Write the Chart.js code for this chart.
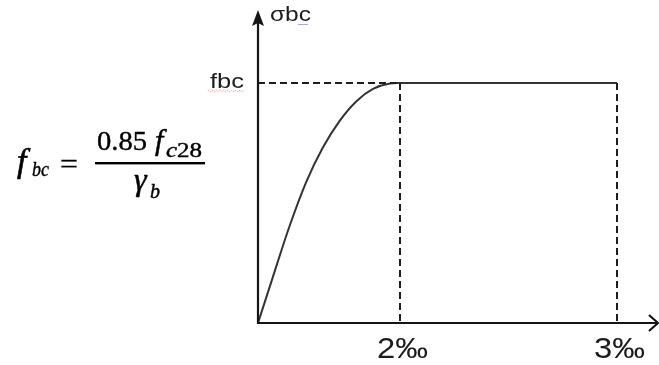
<!DOCTYPE html>
<html>
<head>
<meta charset="utf-8">
<script src="https://cdn.jsdelivr.net/npm/chart.js@4/dist/chart.umd.min.js"></script>
<style>
  html, body { margin: 0; padding: 0; background: #ffffff; }
  #wrap { position: relative; width: 659px; height: 365px; }
</style>
</head>
<body>
<div id="wrap"><canvas id="diagram" width="659" height="365"></canvas></div>
<script>
// Concrete compression law: strain in ‰, stress as a fraction of fbc
const curveStrain = [0, 0.2, 0.44, 0.68, 0.91, 1.15, 1.39, 1.62, 1.86, 2];
const curveStress = [0, 0.183, 0.40, 0.588, 0.729, 0.842, 0.925, 0.975, 0.998, 1];
const plateauStrain = [2, 3];
const plateauStress = [1, 1];
const strainTicks = [2, 3];
const strainTickLabels = ['2‰', '3‰'];
const fbcLevel = 1;
const stressAxisLabel = 'σbc';
const fbcLabel = 'fbc';
const strainAxisMax = 3.2;
const stressAxisMax = 1.304;

// The strain axis is schematic: each segment gets its own stretch along the axis.
const strainAxisKnots = [[0, 0], [2, 0.355], [3, 0.8975], [3.2, 1]];

class SchematicScale extends Chart.LinearScale {
  getPixelForValue(value) {
    const k = strainAxisKnots;
    let f;
    if (value <= k[0][0]) f = k[0][1];
    else if (value >= k[k.length - 1][0]) f = k[k.length - 1][1];
    else {
      for (let i = 1; i < k.length; i++) {
        if (value <= k[i][0]) {
          const a = k[i - 1], b = k[i];
          f = a[1] + (value - a[0]) / (b[0] - a[0]) * (b[1] - a[1]);
          break;
        }
      }
    }
    return this.left + f * this.width;
  }
  getValueForPixel(px) {
    const k = strainAxisKnots;
    const f = (px - this.left) / this.width;
    for (let i = 1; i < k.length; i++) {
      if (f <= k[i][1]) {
        const a = k[i - 1], b = k[i];
        return a[0] + (f - a[1]) / (b[1] - a[1]) * (b[0] - a[0]);
      }
    }
    return k[k.length - 1][0];
  }
}
SchematicScale.id = 'schematic';
SchematicScale.defaults = Chart.LinearScale.defaults;
Chart.register(SchematicScale);

const pts = (xs, ys) => xs.map((x, i) => ({ x: x, y: ys[i] }));

const ink = '#1c1c1c';
const lineInk = '#333333';

// draws text at a baseline, optionally stretched horizontally and thickened
function drawText(ctx, text, x, y, font, width, weight) {
  ctx.save();
  ctx.font = font;
  const w = ctx.measureText(text).width;
  const sx = width ? width / w : 1;
  ctx.translate(x, y);
  ctx.scale(sx, 1);
  ctx.textAlign = 'left';
  ctx.textBaseline = 'alphabetic';
  ctx.fillText(text, 0, 0);
  if (weight) {
    ctx.strokeStyle = ctx.fillStyle;
    ctx.lineWidth = weight;
    ctx.strokeText(text, 0, 0);
  }
  ctx.restore();
}

function squiggle(ctx, x0, x1, y, color) {
  ctx.save();
  ctx.strokeStyle = color;
  ctx.lineWidth = 1;
  ctx.setLineDash([1.5, 1.5]);
  ctx.beginPath();
  for (let x = x0, i = 0; x <= x1; x += 2, i++) {
    const yy = y + (i % 2 ? 1.2 : -1.2);
    if (i === 0) ctx.moveTo(x, yy); else ctx.lineTo(x, yy);
  }
  ctx.stroke();
  ctx.restore();
}

const axesAndLabels = {
  id: 'axesAndLabels',
  afterDatasetsDraw(chart) {
    const ctx = chart.ctx;
    const xs = chart.scales.x, ys = chart.scales.y;
    const x0 = xs.getPixelForValue(0);
    const y0 = ys.getPixelForValue(0);
    const xEnd = xs.getPixelForValue(strainAxisMax);
    const yTop = ys.getPixelForValue(stressAxisMax);
    const yF = ys.getPixelForValue(fbcLevel);

    ctx.save();
    ctx.strokeStyle = '#151515';
    ctx.fillStyle = '#151515';
    ctx.lineWidth = 2.2;
    ctx.lineCap = 'butt';

    // stress axis with filled arrowhead
    ctx.beginPath();
    ctx.moveTo(x0, y0 + 1);
    ctx.lineTo(x0, yTop + 10);
    ctx.stroke();
    ctx.beginPath();
    ctx.moveTo(x0, yTop);
    ctx.lineTo(x0 - 6, yTop + 16);
    ctx.lineTo(x0, yTop + 13);
    ctx.lineTo(x0 + 6, yTop + 16);
    ctx.closePath();
    ctx.fill();

    // strain axis with open arrowhead
    ctx.beginPath();
    ctx.moveTo(x0 - 1, y0);
    ctx.lineTo(xEnd - 1, y0);
    ctx.stroke();
    ctx.beginPath();
    ctx.moveTo(xEnd - 9, y0 - 8);
    ctx.lineTo(xEnd, y0);
    ctx.lineTo(xEnd - 9, y0 + 8);
    ctx.stroke();

    // axis labels
    ctx.fillStyle = ink;
    drawText(ctx, stressAxisLabel, x0 + 12, yTop + 11, '21px "Liberation Sans"', 41);
    drawText(ctx, fbcLabel, x0 - 48, yF + 5, '21px "Liberation Sans"', 34);
    squiggle(ctx, x0 - 50, x0 - 13, yF + 8, 'rgba(225,70,70,0.55)');
    ctx.strokeStyle = 'rgba(80,80,210,0.5)';
    ctx.lineWidth = 1;
    ctx.beginPath();
    ctx.moveTo(x0 + 40, yTop + 14.5);
    ctx.lineTo(x0 + 50, yTop + 14.5);
    ctx.stroke();

    // strain tick labels
    ctx.fillStyle = ink;
    strainTicks.forEach((v, i) => {
      const px = xs.getPixelForValue(v);
      drawText(ctx, strainTickLabels[i], px - 23, y0 + 35, '29px "Liberation Sans"', 51);
    });

    // design strength formula
    const serifI = (s) => 'italic ' + s + 'px "Liberation Serif"';
    const serif = (s) => s + 'px "Liberation Serif"';
    ctx.fillStyle = '#000000';
    drawText(ctx, 'f', 17, 172, serifI(34), null, 0.6);
    drawText(ctx, 'bc', 32, 176, serifI(20), 17, 0.4);
    drawText(ctx, '=', 60, 173, serif(28), 18, 0.3);
    drawText(ctx, '0.85', 97, 150, serif(27), 50, 0.4);
    drawText(ctx, 'f', 155, 150, serifI(30), null, 0.5);
    drawText(ctx, 'c', 166, 157, serifI(20), 11, 0.4);
    drawText(ctx, '28', 177, 157, serif(20), 25, 0.4);
    ctx.fillRect(95, 162, 110, 2.4);
    drawText(ctx, 'γ', 134, 190, serifI(32), null, 0.5);
    drawText(ctx, 'b', 150, 198, serifI(20), null, 0.4);
    ctx.restore();
  }
};

const solid = { borderColor: lineInk, borderWidth: 2, pointRadius: 0, fill: false, clip: false };
const dashed = { borderColor: '#1e1e1e', borderWidth: 2, borderDash: [7, 4], pointRadius: 0, fill: false, clip: false, tension: 0 };

new Chart(document.getElementById('diagram'), {
  type: 'line',
  data: {
    datasets: [
      Object.assign({ label: 'fbc level', data: pts([0, 2], [fbcLevel, fbcLevel]) }, dashed),
      Object.assign({ label: '2‰', data: pts([strainTicks[0], strainTicks[0]], [fbcLevel, 0]) }, dashed),
      Object.assign({ label: '3‰', data: pts([strainTicks[1], strainTicks[1]], [fbcLevel, 0]) }, dashed),
      Object.assign({ label: 'plateau', data: pts(plateauStrain, plateauStress), tension: 0 }, solid),
      Object.assign({ label: 'parabola', data: pts(curveStrain, curveStress), cubicInterpolationMode: 'monotone' }, solid)
    ]
  },
  options: {
    responsive: false,
    animation: false,
    events: [],
    layout: { padding: { left: 258, right: 1, top: 10, bottom: 42 } },
    plugins: { legend: { display: false }, tooltip: { enabled: false } },
    scales: {
      x: { type: 'schematic', position: 'bottom', min: 0, max: strainAxisMax, display: false },
      y: { type: 'linear', min: 0, max: stressAxisMax, display: false }
    }
  },
  plugins: [axesAndLabels]
});
</script>
</body>
</html>
